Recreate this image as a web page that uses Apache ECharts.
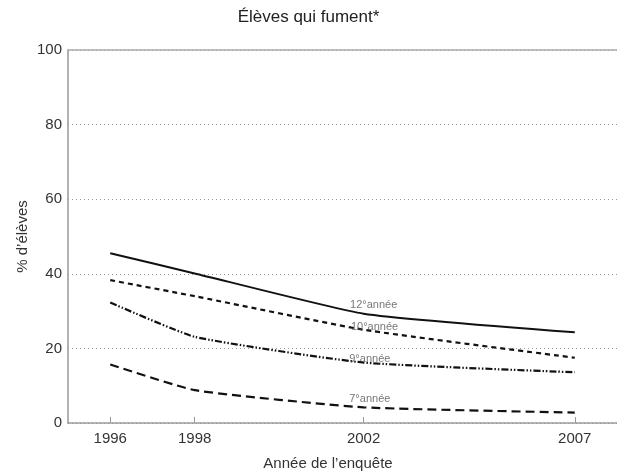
<!DOCTYPE html>
<html>
<head>
<meta charset="utf-8">
<script src="https://cdn.jsdelivr.net/npm/echarts@6/dist/echarts.min.js"></script>
<style>
  html, body { margin: 0; padding: 0; background: #fff; }
  #chart { width: 617px; height: 472px; }
</style>
</head>
<body>
<div id="chart"></div>
<script>
  // survey years and tick labels
  const years = [1996, 1998, 2002, 2007];

  // % of students who smoke, by grade
  const grade12 = [45.5, 40.1, 29.3, 24.3];
  const grade10 = [38.3, 34.0, 25.0, 17.5];
  const grade9 = [32.3, 23.1, 16.2, 13.6];
  const grade7 = [15.7, 8.8, 4.2, 2.8];

  // in-chart labels: [year, value, text]
  const lineLabels = [
    [2001.68, 31.6, '12°année'],
    [2001.70, 25.8, '10°année'],
    [2001.66, 17.3, '9°année'],
    [2001.66, 6.5, '7°année']
  ];

  const yTicks = [0, 20, 40, 60, 80, 100];

  let chart = echarts.init(document.getElementById('chart'));

  function pairs(vals) {
    return years.map(function (y, i) { return [y, vals[i]]; });
  }

  function makeLine(name, vals, dash, width) {
    return {
      name: name,
      type: 'line',
      data: pairs(vals),
      symbol: 'none',
      smooth: 0.15,
      lineStyle: { color: '#111', width: width, type: dash },
      z: 3
    };
  }

  let labelSeries = {
    type: 'scatter',
    data: lineLabels.map(function (d) { return [d[0], d[1], d[2]]; }),
    symbolSize: 0,
    silent: true,
    label: {
      show: true,
      position: 'right',
      distance: 0,
      formatter: function (p) { return p.data[2]; },
      color: '#555',
      fontFamily: 'Liberation Sans, Arial, sans-serif',
      fontSize: 11
    },
    z: 4
  };

  let option = {
    animation: false,
    title: [{
      text: 'Élèves qui fument*',
      left: 'center',
      top: 4,
      textStyle: {
        color: '#222',
        fontFamily: 'Liberation Sans, Arial, sans-serif',
        fontSize: 17,
        fontWeight: 'normal'
      }
    }, {
      text: 'Année de l\u2019enquête',
      left: 323,
      textAlign: 'center',
      top: 451,
      textStyle: {
        color: '#333',
        fontFamily: 'Liberation Sans, Arial, sans-serif',
        fontSize: 15,
        fontWeight: 'normal'
      }
    }],
    grid: { left: 68, right: 0, top: 50, bottom: 49 },
    xAxis: [{
      type: 'value',
      min: 1995,
      max: 2008,
      axisLine: { lineStyle: { color: '#999', width: 1.5 } },
      axisTick: { inside: true, length: 6, customValues: years, lineStyle: { color: '#999' } },
      axisLabel: {
        customValues: years,
        formatter: function (v) { return String(v); },
        color: '#333',
        fontFamily: 'Liberation Sans, Arial, sans-serif',
        fontSize: 15,
        margin: 8
      },
      splitLine: { show: false }
    }, {
      type: 'value',
      position: 'top',
      min: 1995,
      max: 2008,
      axisLine: { show: true, lineStyle: { color: '#aaa', width: 1.5 } },
      axisTick: { show: false },
      axisLabel: { show: false },
      splitLine: { show: false }
    }],
    yAxis: {
      type: 'value',
      min: 0,
      max: 100,
      interval: 20,
      name: '% d\u2019élèves',
      nameLocation: 'middle',
      nameGap: 38,
      nameMoveOverlap: false,
      nameTextStyle: {
        color: '#333',
        fontFamily: 'Liberation Sans, Arial, sans-serif',
        fontSize: 15
      },
      axisLine: { show: true, lineStyle: { color: '#999', width: 1.5 } },
      axisTick: { show: false },
      axisLabel: {
        color: '#333',
        fontFamily: 'Liberation Sans, Arial, sans-serif',
        fontSize: 15,
        margin: 6,
        formatter: function (v) { return yTicks.indexOf(v) >= 0 ? v : ''; }
      },
      splitLine: {
        show: true,
        lineStyle: { color: '#999', type: [1, 3], width: 1 }
      }
    },
    series: [
      makeLine('12e année', grade12, 'solid', 2),
      makeLine('10e année', grade10, [5, 4], 2.2),
      makeLine('9e année', grade9, [7, 2, 1.5, 2, 1.5, 2], 2.2),
      makeLine('7e année', grade7, [9, 5], 2.2),
      labelSeries
    ]
  };

  chart.setOption(option);
</script>
</body>
</html>
